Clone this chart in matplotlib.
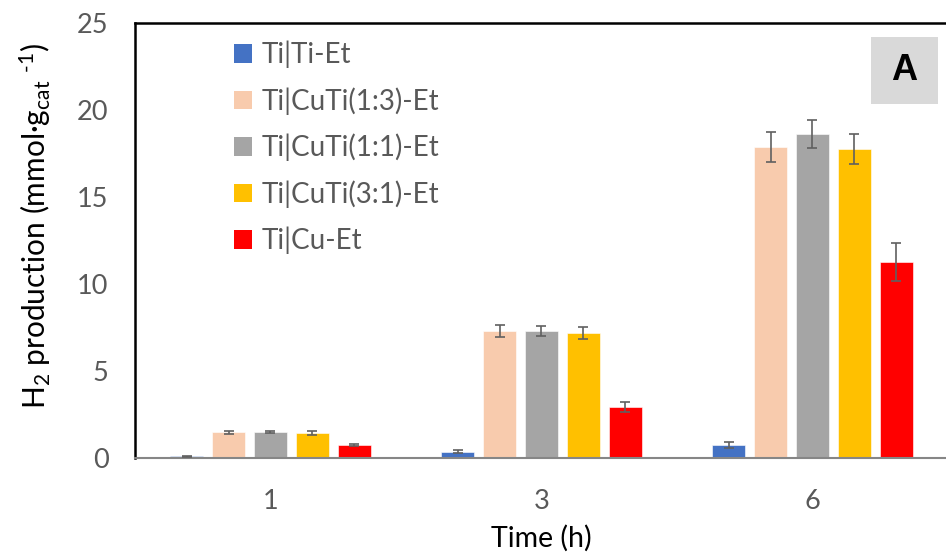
import matplotlib
matplotlib.use("Agg")
import matplotlib.pyplot as plt
import numpy as np
from matplotlib.patches import Patch, Rectangle

# Data
categories = ["1", "3", "6"]
series_names = ["Ti|Ti-Et", "Ti|CuTi(1:3)-Et", "Ti|CuTi(1:1)-Et", "Ti|CuTi(3:1)-Et", "Ti|Cu-Et"]
ti_et = [0.10, 0.36, 0.75]
cuti13 = [1.48, 7.30, 17.87]
cuti11 = [1.49, 7.30, 18.64]
cuti31 = [1.44, 7.20, 17.74]
cu_et = [0.75, 2.91, 11.28]
err_ti_et = [0.03, 0.10, 0.16]
err_cuti13 = [0.10, 0.35, 0.86]
err_cuti11 = [0.08, 0.30, 0.80]
err_cuti31 = [0.09, 0.35, 0.86]
err_cu_et = [0.07, 0.29, 1.09]
colors = ["#4472C4", "#F8CBAD", "#A5A5A5", "#FFC000", "#FF0000"]
yticks = [0, 5, 10, 15, 20, 25]

values = [ti_et, cuti13, cuti11, cuti31, cu_et]
errors = [err_ti_et, err_cuti13, err_cuti11, err_cuti31, err_cu_et]

plt.rcParams['font.family'] = ['Lato', 'DejaVu Sans']
plt.rcParams['mathtext.fontset'] = 'custom'
plt.rcParams['mathtext.rm'] = 'Lato'
plt.rcParams['mathtext.it'] = 'Lato:italic'
plt.rcParams['mathtext.bf'] = 'Lato:bold'

fig = plt.figure(figsize=(9.46, 5.59), dpi=100)
ax = fig.add_axes([135/946, 1 - 458/559, 1 - 135/946 + 0.002, (458 - 23)/559])

x = np.arange(len(categories))
pitch = 0.1545
width = 0.122
for i, (vals, errs, c, name) in enumerate(zip(values, errors, colors, series_names)):
    pos = x + (i - 2) * pitch
    ax.bar(pos, vals, width=width, color=c, edgecolor='white', linewidth=0.4, label=name, zorder=2)
    ax.errorbar(pos, vals, yerr=errs, fmt='none', ecolor='#606060', elinewidth=1.2,
                capsize=3.8, capthick=1.2, zorder=3)

ax.set_xlim(-0.5, 2.5)
ax.set_ylim(0, 25)
ax.set_yticks(yticks)
ax.set_xticks(x)
ax.set_xticklabels(categories)
ax.tick_params(axis='both', length=0, labelsize=19.5, colors='#595959')
ax.tick_params(axis='y', pad=19)
ax.tick_params(axis='x', pad=22)

for s in ['left', 'top']:
    ax.spines[s].set_color('black')
    ax.spines[s].set_linewidth(1.8)
ax.spines['right'].set_visible(False)
ax.spines['bottom'].set_color('#868686')
ax.spines['bottom'].set_linewidth(1.5)

ax.set_xlabel("Time (h)", fontsize=20.5, color='black', labelpad=8)
fig.text(35/946, 1 - 226/559, r"H$_2$ production (mmol·g$_{\mathrm{cat}}$ $^{\text{-1}}$)",
         rotation=90, ha='center', va='center', fontsize=21.5, color='black')

handles = [Patch(facecolor=c, edgecolor='none') for c in colors]
leg = ax.legend(handles, series_names, loc='upper left',
                bbox_to_anchor=((220 - 135)/811, (458 - 27)/435),
                frameon=False, fontsize=20, handlelength=0.65, handleheight=0.65,
                handletextpad=0.35, labelspacing=0.68, borderpad=0)
for t in leg.get_texts():
    t.set_color('#595959')

fig.patches.append(Rectangle((871/946, 1 - 104/559), 67/946, 67/559,
                             transform=fig.transFigure, facecolor='#D9D9D9',
                             edgecolor='none', zorder=5))
fig.text((871 + 33.5)/946, 1 - 70.5/559, "A", ha='center', va='center',
         fontsize=26, fontweight='bold', family='Liberation Sans', color='black', zorder=6)

fig.savefig("out.png", dpi=100)
